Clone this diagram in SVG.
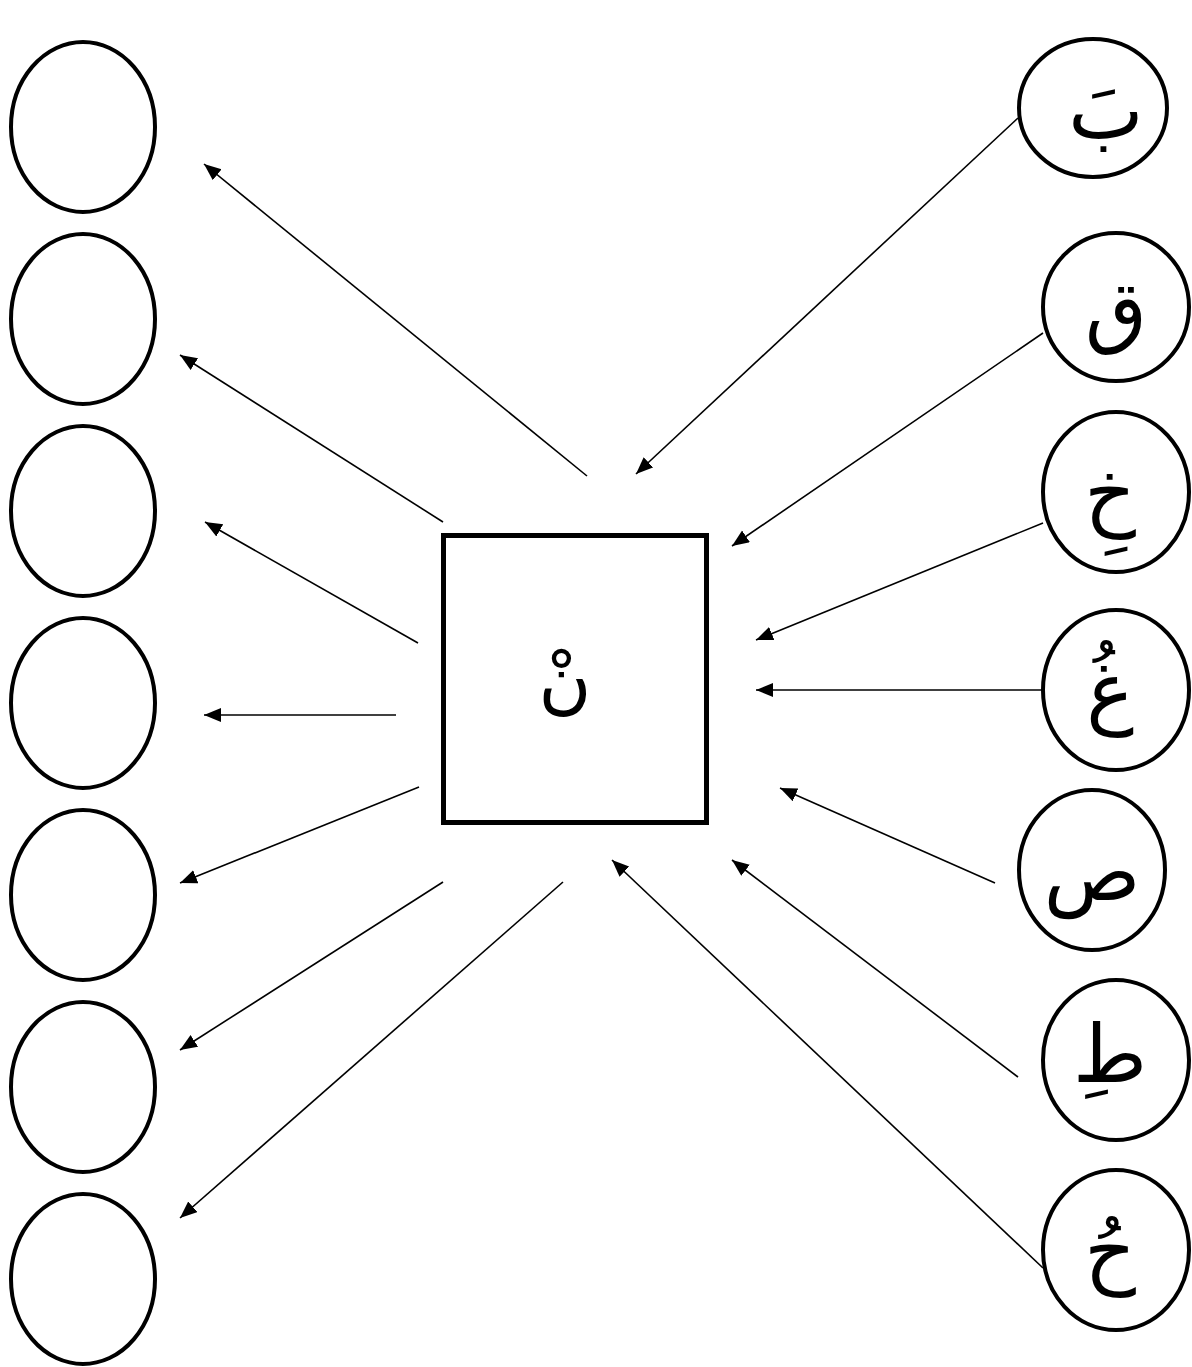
<svg xmlns="http://www.w3.org/2000/svg" width="1192" height="1367" viewBox="0 0 1192 1367">
<style>
.c{fill:#fff;stroke:#000;stroke-width:4}
.b{fill:#fff;stroke:#000;stroke-width:5}
.t{font-family:"DejaVu Sans","Noto Sans",sans-serif;font-size:80px;fill:#000;text-anchor:middle;direction:rtl}
.l{stroke:#000;stroke-width:1.6;fill:none;marker-end:url(#ah)}
</style>
<defs>
<marker id="ah" markerUnits="userSpaceOnUse" markerWidth="18" markerHeight="16" refX="17" refY="7" orient="auto">
<path d="M0,0 L17,7 L0,14 z" fill="#000"/>
</marker>
</defs>
<rect width="1192" height="1367" fill="#fff"/>
<g id="left-nodes">
<g id="L1"><ellipse class="c" cx="83" cy="127" rx="72" ry="85"/></g>
<g id="L2"><ellipse class="c" cx="83" cy="319" rx="72" ry="85"/></g>
<g id="L3"><ellipse class="c" cx="83" cy="511" rx="72" ry="85"/></g>
<g id="L4"><ellipse class="c" cx="83" cy="703" rx="72" ry="85"/></g>
<g id="L5"><ellipse class="c" cx="83" cy="895" rx="72" ry="85"/></g>
<g id="L6"><ellipse class="c" cx="83" cy="1087" rx="72" ry="85"/></g>
<g id="L7"><ellipse class="c" cx="83" cy="1279" rx="72" ry="85"/></g>
</g>
<g id="center">
<rect class="b" x="443.5" y="535.5" width="263" height="287"/>
<text class="t" x="565" y="705" style="font-size:72px">نْ</text>
</g>
<g id="right-nodes">
<g id="R1"><ellipse class="c" cx="1093" cy="108" rx="74" ry="69"/><text class="t" x="1106" y="138">بَ</text></g>
<g id="R2"><ellipse class="c" cx="1116" cy="307" rx="73" ry="74"/><text class="t" x="1116" y="338">ق</text></g>
<g id="R3"><ellipse class="c" cx="1116" cy="492" rx="73" ry="80"/><text class="t" x="1110" y="520">خِ</text></g>
<g id="R4"><ellipse class="c" cx="1116" cy="690" rx="73" ry="80"/><text class="t" x="1110" y="718">غُ</text></g>
<g id="R5"><ellipse class="c" cx="1092" cy="870" rx="73" ry="80"/><text class="t" x="1092" y="900">ص</text></g>
<g id="R6"><ellipse class="c" cx="1116" cy="1060" rx="73" ry="80"/><text class="t" x="1110" y="1082">طِ</text></g>
<g id="R7"><ellipse class="c" cx="1116" cy="1250" rx="73" ry="80"/><text class="t" x="1110" y="1278">حُ</text></g>
</g>
<g id="connectors">
<line class="l" x1="587" y1="476" x2="204" y2="164"/>
<line class="l" x1="443" y1="522" x2="180" y2="355"/>
<line class="l" x1="418" y1="643" x2="205" y2="522"/>
<line class="l" x1="396" y1="715" x2="204" y2="715"/>
<line class="l" x1="419" y1="787" x2="180" y2="883"/>
<line class="l" x1="443" y1="882" x2="180" y2="1050"/>
<line class="l" x1="563" y1="882" x2="180" y2="1218"/>
<line class="l" x1="1018" y1="118" x2="636" y2="474"/>
<line class="l" x1="1043" y1="333" x2="732" y2="546"/>
<line class="l" x1="1043" y1="523" x2="756" y2="640"/>
<line class="l" x1="1043" y1="690" x2="756" y2="690"/>
<line class="l" x1="995" y1="883" x2="780" y2="788"/>
<line class="l" x1="1018" y1="1077" x2="732" y2="860"/>
<line class="l" x1="1043" y1="1268" x2="612" y2="860"/>
</g>
</svg>
